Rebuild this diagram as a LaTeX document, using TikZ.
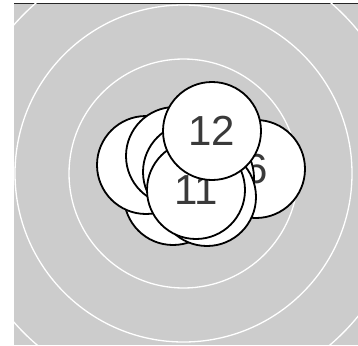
\documentclass[tikz,border=0pt]{standalone}
\usepackage{fontspec}
\setmainfont{Liberation Sans}
\definecolor{bggray}{HTML}{CCCCCC}
\definecolor{txtgray}{HTML}{3A3A3A}
\begin{document}
\begin{tikzpicture}[x=1pt,y=-1pt,
  ring/.style={draw=white,line width=1.3pt},
  dot/.style={circle,draw=black,fill=white,line width=1.8pt,minimum size=98pt,inner sep=0pt,
    font=\fontsize{42}{42}\selectfont,text=txtgray}]
\useasboundingbox (0,0) rectangle (358,345);
\fill[bggray] (14,4) rectangle (358,345);
\draw[black!85,line width=1.4pt] (14,3.5) -- (358,3.5);
\begin{scope}
  \clip (14,4) rectangle (358,345);
  \coordinate (ctr) at (183.5,173.5);
  \draw[ring] (ctr) circle[radius=114.5];
  \draw[ring] (ctr) circle[radius=168.5];
  \draw[ring] (ctr) circle[radius=225.5];
\end{scope}
\node[dot] (c) at (173,196) {};
\node[dot] (g) at (256,169) {\raisebox{-1.5pt}{6}};
\node[dot] (a) at (146,165) {};
\node[dot] (b) at (175,156) {};
\node[dot] (f) at (205,178) {};
\node[dot] (e) at (192,172) {};
\node[dot] (d) at (207,197) {};
\node[dot] (h) at (196,190) {\raisebox{-1.5pt}{11}};
\node[dot] (i) at (212,131) {\raisebox{-1.5pt}{12}};
\end{tikzpicture}
\end{document}
